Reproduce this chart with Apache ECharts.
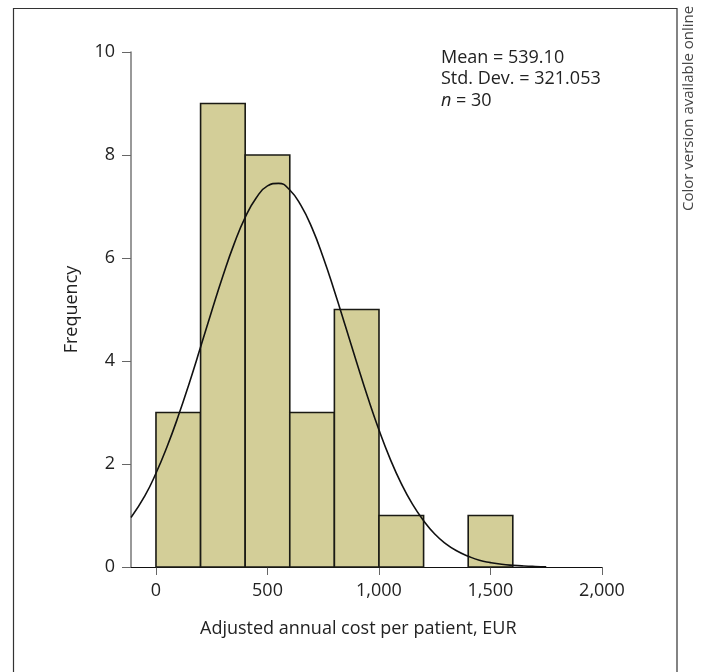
<!DOCTYPE html>
<html>
<head>
    <title>Annual cost histogram</title>
    <script src="https://cdn.jsdelivr.net/npm/echarts@6/dist/echarts.min.js"></script>
    <style>
        html, body { margin: 0; padding: 0; background: #fff; }
    </style>
</head>
<body>
    <div id="chart" style="width: 703px; height: 672px;"></div>
    <script type="text/javascript">
        // histogram bins (EUR) and counts
        var binStarts = [0, 200, 400, 600, 800, 1000, 1200, 1400];
        var binEnds = [200, 400, 600, 800, 1000, 1200, 1400, 1600];
        var counts = [3, 9, 8, 3, 5, 1, 0, 1];

        // fitted normal curve
        var curveX = [-112, -50, 0, 50, 100, 150, 200, 250, 300, 350, 400, 450, 500, 550, 600, 650, 700, 750,
            800, 850, 900, 950, 1000, 1050, 1100, 1150, 1200, 1250, 1300, 1350, 1400, 1450, 1500, 1550, 1600,
            1650, 1700, 1750];
        var curveY = [0.96, 1.38, 1.82, 2.34, 2.93, 3.58, 4.27, 4.97, 5.65, 6.27, 6.79, 7.17, 7.40, 7.45, 7.32,
            7.02, 6.58, 6.01, 5.36, 4.67, 3.97, 3.29, 2.66, 2.10, 1.62, 1.22, 0.90, 0.64, 0.45, 0.31, 0.21,
            0.13, 0.085, 0.052, 0.032, 0.019, 0.011, 0.006];

        var xTicks = [0, 500, 1000, 1500, 2000];
        var statsLines = ['Mean = 539.10', 'Std. Dev. = 321.053', '30'];

        var font = '"Open Sans", "Noto Sans", sans-serif';

        var bins = binStarts.map(function (s, i) { return [s, binEnds[i], counts[i]]; });
        var curve = curveX.map(function (x, i) { return [x, curveY[i]]; });

        var chart = echarts.init(document.getElementById('chart'));
        var option = {
            animation: false,
            backgroundColor: '#fff',
            grid: { left: 131, right: 101, top: 52, bottom: 105 },
            xAxis: {
                type: 'value',
                min: -112,
                max: 2000,
                splitLine: { show: false },
                axisLine: { onZero: false, lineStyle: { color: '#111', width: 1 } },
                axisTick: { customValues: xTicks, length: 8, lineStyle: { color: '#666' } },
                axisLabel: {
                    customValues: xTicks,
                    margin: 9,
                    color: '#222',
                    fontFamily: font,
                    fontSize: 18,
                    formatter: function (v) { return v.toLocaleString('en-US'); }
                }
            },
            yAxis: {
                type: 'value',
                min: 0,
                max: 10,
                interval: 2,
                name: 'Frequency',
                nameLocation: 'middle',
                nameRotate: 90,
                nameGap: 45,
                nameMoveOverlap: false,
                nameTextStyle: { color: '#222', fontFamily: font, fontSize: 18 },
                splitLine: { show: false },
                axisLine: { show: true, onZero: false, lineStyle: { color: '#777', width: 1.5 } },
                axisTick: { show: true, length: 9, lineStyle: { color: '#666' } },
                axisLabel: { margin: 16, color: '#222', fontFamily: font, fontSize: 18 }
            },
            series: [
                {
                    type: 'custom',
                    data: bins,
                    encode: { x: [0, 1], y: 2 },
                    z: 2,
                    renderItem: function (params, api) {
                        if (api.value(2) <= 0) return null;
                        var p0 = api.coord([api.value(0), api.value(2)]);
                        var p1 = api.coord([api.value(1), 0]);
                        return {
                            type: 'rect',
                            shape: { x: p0[0], y: p0[1], width: p1[0] - p0[0], height: p1[1] - p0[1] },
                            style: { fill: '#d3ce98', stroke: '#1a1a14', lineWidth: 1.6 }
                        };
                    }
                },
                {
                    type: 'line',
                    data: curve,
                    smooth: true,
                    symbol: 'none',
                    z: 3,
                    lineStyle: { color: '#111', width: 1.6 }
                }
            ],
            graphic: [
                {
                    type: 'rect',
                    silent: true,
                    shape: { x: 13.5, y: 8.5, width: 663.5, height: 700 },
                    style: { fill: null, stroke: '#333', lineWidth: 1.2 }
                },
                {
                    type: 'text',
                    left: 200,
                    top: 614,
                    style: {
                        text: 'Adjusted annual cost per patient, EUR',
                        fill: '#222',
                        font: '18px ' + font
                    }
                },
                {
                    type: 'text',
                    left: 441,
                    top: 43,
                    style: {
                        text: statsLines[0] + '\n' + statsLines[1] + '\n{i|n} = ' + statsLines[2],
                        fill: '#222',
                        font: '18px ' + font,
                        lineHeight: 21.5,
                        rich: { i: { fontStyle: 'italic', fontFamily: font, fontSize: 18, fill: '#222' } }
                    }
                },
                {
                    type: 'text',
                    x: 677,
                    y: 211,
                    rotation: Math.PI / 2,
                    style: {
                        text: 'Color version available online',
                        fill: '#444',
                        font: '15px ' + font,
                        textAlign: 'left',
                        textVerticalAlign: 'top'
                    }
                }
            ]
        };
        chart.setOption(option);
    </script>
</body>
</html>
